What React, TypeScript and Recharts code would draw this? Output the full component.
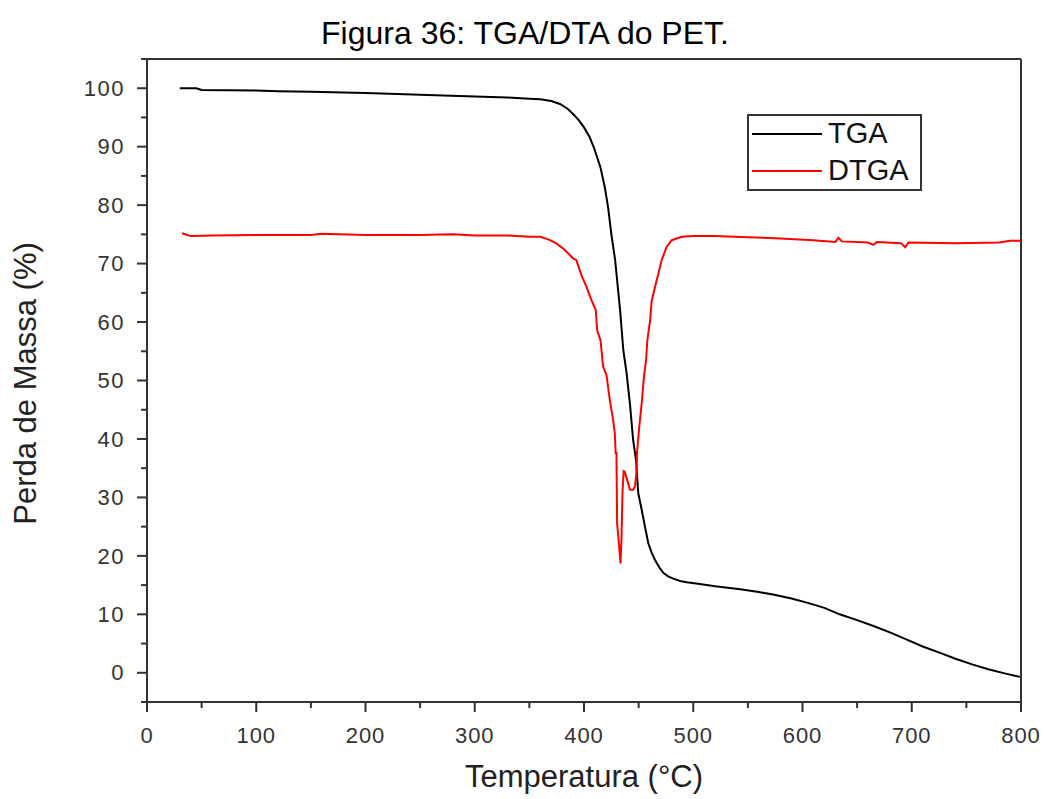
import React from 'react';
import { LineChart, Line, XAxis, YAxis, ReferenceLine, Legend } from 'recharts';

// TGA curve (mass loss, %)
const tgaTemp = [30, 45, 50, 100, 120, 150, 200, 250, 300, 330, 350, 360, 370, 378, 385, 390, 395, 400, 405, 409, 415, 419, 422, 425, 428.5, 433, 436, 439, 442, 445, 447.6, 449.7, 452.8, 455.8, 458.8, 462, 465, 469, 472.6, 477, 481.7, 488, 494, 506, 520, 543, 560, 573, 590, 604, 620, 634, 650, 665, 680, 695, 710, 726, 740, 756, 770, 785, 799];
const tgaMass = [100, 100, 99.7, 99.6, 99.5, 99.4, 99.2, 98.9, 98.6, 98.4, 98.2, 98.1, 97.8, 97.3, 96.5, 95.6, 94.6, 93.3, 91.7, 89.9, 86.5, 83.1, 79.7, 75.1, 70.6, 62.1, 55.2, 51.2, 46.1, 39.8, 36.4, 30.7, 27.9, 25.0, 22.2, 20.5, 19.3, 18.0, 17.1, 16.5, 16.1, 15.7, 15.5, 15.2, 14.8, 14.3, 13.8, 13.4, 12.7, 12.0, 11.1, 10.0, 9.0, 8.0, 6.9, 5.7, 4.5, 3.4, 2.4, 1.4, 0.6, -0.1, -0.7];

// DTGA curve
const dtgaTemp = [32, 40, 60, 100, 150, 160, 200, 250, 280, 300, 330, 350, 360, 368, 375, 382, 390, 393, 397.7, 402.3, 406.9, 410.8, 412, 415.1, 417.5, 420.6, 423.6, 426.6, 428.2, 429, 429.7, 430.3, 432.2, 433.4, 434.3, 435.2, 436.3, 437.3, 439.5, 442.1, 445.1, 446.7, 448.2, 448.5, 450.6, 452.8, 454.9, 456.8, 458, 460.5, 462, 465, 468.1, 471.1, 475.7, 480.3, 489.5, 500, 520, 550, 580, 610, 630, 633, 636, 660, 665, 668, 690, 694, 697, 740, 780, 790, 800];
const dtgaValue = [75.2, 74.7, 74.8, 74.9, 74.9, 75.1, 74.9, 74.9, 75.0, 74.8, 74.8, 74.6, 74.6, 74.1, 73.4, 72.4, 70.9, 70.6, 68.0, 66.0, 63.7, 62.0, 58.6, 56.9, 52.4, 50.9, 46.7, 43.3, 41.0, 37.6, 37.6, 25.6, 21.6, 18.7, 22.8, 30.7, 34.5, 34.4, 33.0, 31.3, 31.3, 31.9, 34.7, 37.6, 42.1, 46.1, 50.7, 53.5, 56.9, 60.3, 63.7, 66.0, 68.3, 70.6, 72.9, 74.0, 74.6, 74.7, 74.7, 74.5, 74.3, 74.0, 73.7, 74.4, 73.8, 73.6, 73.2, 73.7, 73.5, 72.8, 73.6, 73.5, 73.6, 73.9, 73.9];

const xTicks = [0, 50, 100, 150, 200, 250, 300, 350, 400, 450, 500, 550, 600, 650, 700, 750, 800];
const yTicks = [-5, 0, 5, 10, 15, 20, 25, 30, 35, 40, 45, 50, 55, 60, 65, 70, 75, 80, 85, 90, 95, 100, 105];
const legendOrder = ['TGA', 'DTGA'];

const tgaData = tgaTemp.map((t, i) => ({ t, v: tgaMass[i] }));
const dtgaData = dtgaTemp.map((t, i) => ({ t, v: dtgaValue[i] }));

const font = '"Liberation Sans", Arial, sans-serif';
const axisColor = '#333';

const XTick = (props: any) => {
  const { x, y, payload } = props;
  const major = payload.value % 100 === 0;
  return (
    <g>
      <line x1={x} x2={x} y1={y} y2={y + (major ? 10 : 6)} stroke={axisColor} strokeWidth={2} />
      {major && (
        <text x={x} y={y + 41} textAnchor="middle" fontSize={22} letterSpacing={1} fontFamily={font} fill="#333">
          {payload.value}
        </text>
      )}
    </g>
  );
};

const YTick = (props: any) => {
  const { x, y, payload } = props;
  const v = payload.value;
  const major = v % 10 === 0 && v >= 0 && v <= 100;
  return (
    <g>
      <line x1={x} x2={x - (major ? 10 : 6)} y1={y} y2={y} stroke={axisColor} strokeWidth={2} />
      {major && (
        <text x={x - 22} y={y} dy="0.35em" textAnchor="end" fontSize={22} letterSpacing={1.5} fontFamily={font} fill="#333">
          {v}
        </text>
      )}
    </g>
  );
};

const YTitle = (props: any) => {
  const vb = props.viewBox || { x: 0, y: 59, width: 147, height: 643 };
  const cx = vb.x + 25;
  const cy = vb.y + vb.height / 2 + 3;
  return (
    <text x={cx} y={cy} transform={`rotate(-90 ${cx} ${cy})`} textAnchor="middle" dominantBaseline="central" fontSize={31} fontFamily={font} fill="#222">
      Perda de Massa (%)
    </text>
  );
};

const XTitle = (props: any) => {
  const vb = props.viewBox || { x: 147, y: 702, width: 874, height: 97 };
  return (
    <text x={vb.x + vb.width / 2} y={vb.y + 85} textAnchor="middle" fontSize={31} fontFamily={font} fill="#222">
      Temperatura (°C)
    </text>
  );
};

const LegendBox = (props: any) => {
  const items = [...(props.payload || [])].sort(
    (a: any, b: any) => legendOrder.indexOf(a.value) - legendOrder.indexOf(b.value)
  );
  return (
    <svg width={175} height={77} style={{ display: 'block' }}>
      <rect x={1} y={1} width={173} height={75} fill="#fff" stroke={axisColor} strokeWidth={2} />
      {items.map((item: any, i: number) => (
        <g key={item.value}>
          <line x1={5} x2={75} y1={20 + i * 37} y2={20 + i * 37} stroke={item.color} strokeWidth={2} />
          <text x={81} y={29 + i * 37} fontSize={29} fontFamily={font} fill="#111">
            {item.value}
          </text>
        </g>
      ))}
    </svg>
  );
};

export default function App() {
  return (
    <div style={{ position: 'absolute', left: 0, top: 0, width: 1044, height: 799, background: '#fff' }}>
      <svg width={1044} height={60} style={{ position: 'absolute', left: 0, top: 0 }}>
        <text x={525} y={44} textAnchor="middle" fontSize={32} fontFamily={font} fill="#000">
          Figura 36: TGA/DTA do PET.
        </text>
      </svg>
      <div style={{ position: 'absolute', left: 0, top: 0 }}>
        <LineChart width={1044} height={799} margin={{ top: 59, right: 23, left: 0, bottom: 0 }}>
          <XAxis
            dataKey="t"
            type="number"
            domain={[0, 800]}
            ticks={xTicks}
            interval={0}
            allowDataOverflow
            height={97}
            tickSize={0}
            tickMargin={0}
            tickLine={false}
            tick={<XTick />}
            axisLine={{ stroke: axisColor, strokeWidth: 2 }}
            label={<XTitle />}
          />
          <YAxis
            type="number"
            domain={[-5, 105]}
            ticks={yTicks}
            interval={0}
            allowDataOverflow
            width={147}
            tickSize={0}
            tickMargin={0}
            tickLine={false}
            tick={<YTick />}
            axisLine={{ stroke: axisColor, strokeWidth: 2 }}
            label={<YTitle />}
          />
          <ReferenceLine y={105} stroke={axisColor} strokeWidth={2} />
          <ReferenceLine x={800} stroke={axisColor} strokeWidth={2} />
          <Legend
            layout="horizontal"
            verticalAlign="middle"
            align="center"
            wrapperStyle={{ left: 747, top: 114, width: 175, height: 77 }}
            content={<LegendBox />}
          />
          <Line data={tgaData} dataKey="v" name="TGA" type="linear" stroke="#000" strokeWidth={2} dot={false} isAnimationActive={false} />
          <Line data={dtgaData} dataKey="v" name="DTGA" type="linear" stroke="#ff0000" strokeWidth={2} dot={false} isAnimationActive={false} />
        </LineChart>
      </div>
    </div>
  );
}
